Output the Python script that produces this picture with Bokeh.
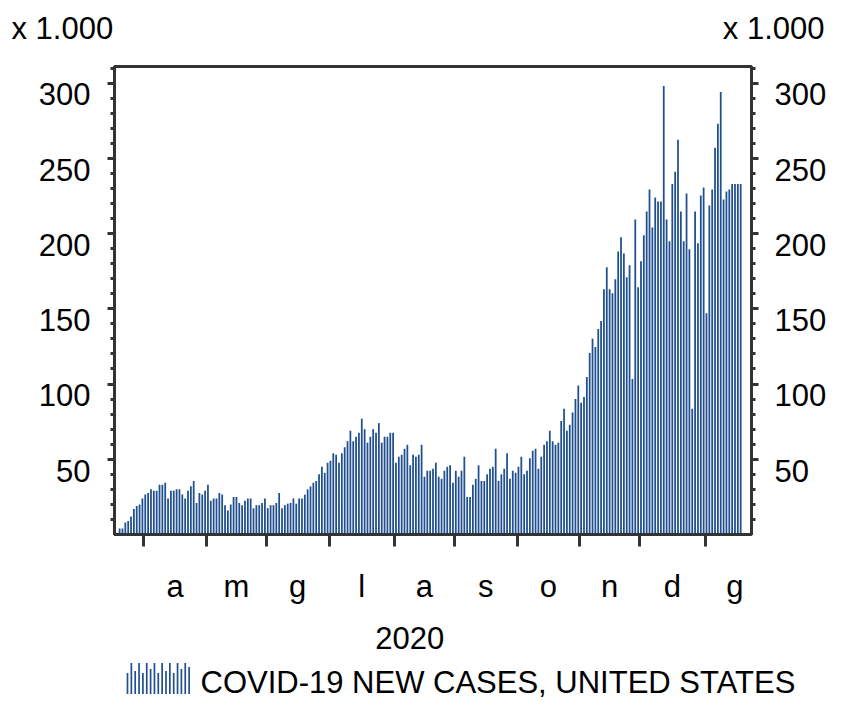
import numpy as np
import pandas as pd
from bokeh.plotting import figure
from bokeh.models import Range1d, LinearAxis, FixedTicker
from bokeh.layouts import column
from bokeh.embed import file_html
from bokeh.resources import INLINE
from bokeh.core.properties import value

# ---------------- data (thousands of new cases, business days from 2020-03-19) -------------
first_day = "2020-03-19"
new_cases_k = [
    4, 4, 8, 9, 12, 17, 19, 20, 24, 26.5,
    27.6, 30, 29, 29, 33, 33, 34.4, 24, 29, 29,
    30, 30, 26.5, 24, 29, 32, 35.6, 21, 27.6, 26.5,
    29, 33, 22.5, 24, 24, 27.6, 26.5, 19.5, 16, 20,
    25, 25, 21, 19.5, 22.5, 24, 24, 17.5, 19.5, 19.5,
    21, 24, 17.5, 19.5, 19.5, 21, 27.6, 17.5, 19.5, 20.5,
    21, 24, 20.5, 24, 24, 26.5, 30, 32, 34.4, 35.6,
    40, 45,
    41, 47.7, 49, 54, 53, 47.7, 54, 58, 62, 69,
    62, 65, 67.6, 77, 70, 61, 65, 70, 67.6, 74,
    61, 65, 65, 67.6, 67.6, 47.7, 51.7, 53, 57, 59.6,
    46, 53, 51.7, 53, 59.6, 38.4, 42.4, 42.4, 43.7, 47.7,
    38.4, 37, 42.4, 45, 46, 34.4, 42.4, 38.4, 42.4, 51.7,
    25, 25, 33, 37, 46, 35.6, 35.6, 40, 43.7, 45,
    57, 35.6, 40, 43.7, 54, 37, 42.4, 41, 45, 51.7,
    40, 42.4, 50.6, 55.6, 57, 43.7, 51.7, 59.6, 62, 69,
    62, 59.6, 61, 75.5,
    83.5, 69, 73, 81, 90, 99, 87.5, 91.4, 104.7, 120.6,
    130, 124.6, 136.5, 141.8, 163, 177.6, 163, 160.3, 169.6, 188,
    197.5, 186.8, 171, 179, 103.4, 209.4, 164.3, 181.5, 198.8, 214.7,
    229.3, 204, 224, 221.3, 221.3, 298, 209.4, 194.8, 233, 241,
    262.4, 214.7, 194.8, 226.6, 189.5, 83.5, 214.7, 193.5, 225.3, 230.6,
    147, 218.6, 229.3, 257, 273, 294, 222.6, 228, 229.3, 233,
    233, 233, 233,
]
month_starts = ["2020-04-01", "2020-05-01", "2020-06-01", "2020-07-01", "2020-08-01",
                "2020-09-01", "2020-10-01", "2020-11-01", "2020-12-01", "2021-01-01"]
month_letters = ["a", "m", "g", "l", "a", "s", "o", "n", "d", "g"]
y_ticks = [50, 100, 150, 200, 250, 300]
y_minor = list(range(10, 311, 10))
year_label = "2020"
next_year_start = "2021-01-01"
unit_label = "x 1.000"
legend_text = "COVID-19 NEW CASES, UNITED STATES"
icon_heights = [21, 31, 23, 31, 21, 31, 25, 31, 21, 31, 23, 31, 21, 31, 25, 31, 27]

# ---------------- derived positions (business-day index axis) ----------------
bdays = pd.bdate_range(first_day, "2021-02-28")
idx = np.arange(len(new_cases_k))
tick_pos, mid_pos = [], []
for ms in month_starts:
    s = pd.Timestamp(ms)
    e = s + pd.offsets.MonthBegin(1)
    i0 = int(bdays.searchsorted(s))
    i1 = int(bdays.searchsorted(e)) - 1
    tick_pos.append(i0 - 0.5)
    mid_pos.append((i0 + i1) / 2.0)
overrides = {float(m): l for m, l in zip(mid_pos, month_letters)}

X0, X1 = -1.8, 221.8
year_end_pos = int(bdays.searchsorted(pd.Timestamp(next_year_start))) - 0.5
year_center = (X0 + year_end_pos) / 2.0

FONT = "Liberation Sans"
FS = "31px"
AX = "#333333"
BAR = "#1f4f8f"

W = 826
LEFT = 114
FW, FH = 637, 468
TH, TOPB, BOTB, LH = 50, 16, 128, 38
YMAX = 311
SHIFT = 7.5

p = figure(frame_width=FW, frame_height=FH,
           x_range=Range1d(X0, X1), y_range=Range1d(0, YMAX),
           x_axis_type=None, y_axis_type=None,
           output_backend="svg", toolbar_location=None,
           min_border_left=LEFT, min_border_right=W - LEFT - FW,
           min_border_top=TOPB, min_border_bottom=BOTB,
           outline_line_color=AX, outline_line_width=3, frame_align=False,
           background_fill_color="white", border_fill_color="white")
p.extra_y_ranges = {"lab": Range1d(SHIFT, YMAX + SHIFT)}

p.vbar(x=idx, top=new_cases_k, bottom=0, width=0.62,
       fill_color=BAR, line_color=None)


def tick_axis():
    # short (minor) ticks every 10 thousand, no labels
    return LinearAxis(ticker=FixedTicker(ticks=[], minor_ticks=y_minor),
                      major_label_standoff=0,
                      major_tick_out=4, major_tick_in=0, minor_tick_out=4, minor_tick_in=0,
                      axis_line_color=AX, axis_line_width=3,
                      major_tick_line_color=AX, major_tick_line_width=3,
                      minor_tick_line_color=AX, minor_tick_line_width=3)


def label_axis(standoff):
    # labels sit slightly below their (long) ticks, as in the original
    return LinearAxis(y_range_name="lab",
                      ticker=FixedTicker(ticks=y_ticks,
                                         minor_ticks=[t + SHIFT for t in y_ticks]),
                      axis_line_color=None, major_tick_line_color=None,
                      minor_tick_line_color=AX, minor_tick_line_width=3,
                      major_tick_out=0, major_tick_in=0, minor_tick_out=3, minor_tick_in=4,
                      major_label_standoff=standoff,
                      major_label_text_font=FONT, major_label_text_font_size=FS,
                      major_label_text_color="black")


p.add_layout(tick_axis(), "left")
p.add_layout(label_axis(17), "left")
p.add_layout(tick_axis(), "right")
p.add_layout(label_axis(16), "right")

month_axis = LinearAxis(ticker=FixedTicker(ticks=mid_pos, minor_ticks=tick_pos),
                        major_label_overrides=overrides,
                        major_tick_out=0, major_tick_in=0, major_tick_line_color=None,
                        minor_tick_out=12, minor_tick_in=0,
                        minor_tick_line_color=AX, minor_tick_line_width=3,
                        axis_line_color=AX, axis_line_width=3,
                        major_label_standoff=22,
                        major_label_text_font=FONT, major_label_text_font_size=FS,
                        major_label_text_color="black")
p.add_layout(month_axis, "below")

year_axis = LinearAxis(ticker=FixedTicker(ticks=[year_center], minor_ticks=[]),
                       major_label_overrides={float(year_center): year_label},
                       axis_line_color=None, major_tick_line_color=None,
                       minor_tick_line_color=None,
                       major_tick_out=0, major_tick_in=0, minor_tick_out=0, minor_tick_in=0,
                       major_label_standoff=20,
                       major_label_text_font=FONT, major_label_text_font_size=FS,
                       major_label_text_color="black")
p.add_layout(year_axis, "below")

# ---------------- top strip: unit labels ----------------
top = figure(width=W, height=TH, x_range=Range1d(0, W), y_range=Range1d(0, TH),
             x_axis_type=None, y_axis_type=None, output_backend="svg",
             toolbar_location=None, min_border=0, outline_line_color=None,
             frame_align=False,
             background_fill_color="white", border_fill_color="white")
top.text(x=[11], y=[TH - 27.5], text=[unit_label], text_font=value(FONT),
         text_font_size=value(FS),
         text_align="left", text_baseline="middle", text_color="black")
top.text(x=[W - 2], y=[TH - 27.5], text=[unit_label], text_font=value(FONT),
         text_font_size=value(FS),
         text_align="right", text_baseline="middle", text_color="black")

# ---------------- legend strip ----------------
leg = figure(width=W, height=LH, x_range=Range1d(0, W), y_range=Range1d(0, LH),
             x_axis_type=None, y_axis_type=None, output_backend="svg",
             toolbar_location=None, min_border=0, outline_line_color=None,
             frame_align=False,
             background_fill_color="white", border_fill_color="white")
icon_x = [127 + i * 3.85 for i in range(len(icon_heights))]
leg.vbar(x=icon_x, top=[6.5 + h for h in icon_heights], bottom=6.5, width=1.7,
         fill_color=BAR, line_color=None)
leg.text(x=[200], y=[18], text=[legend_text], text_font=value(FONT),
         text_font_size=value(FS), text_align="left", text_baseline="middle",
         text_color="black")

layout = column(top, p, leg, spacing=0)
open("out.html", "w").write(file_html(layout, INLINE))
